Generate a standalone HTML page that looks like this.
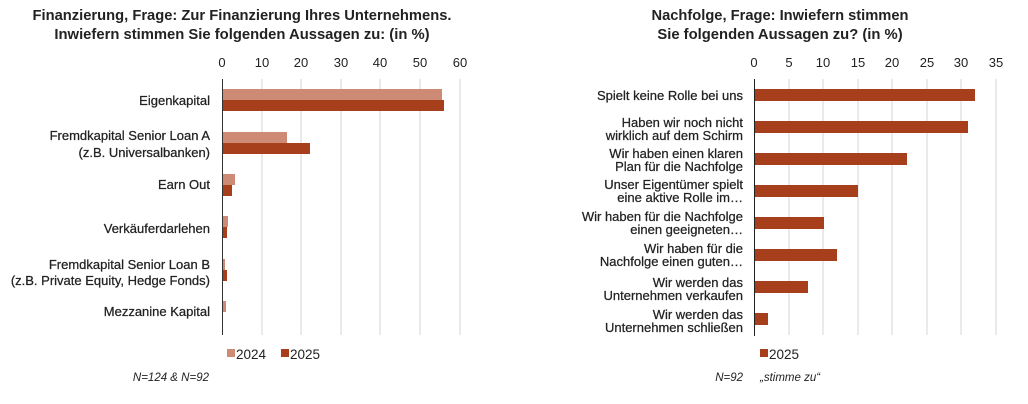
<!DOCTYPE html>
<html><head><meta charset="utf-8"><style>
html,body{margin:0;padding:0;background:#fff;width:1028px;height:404px;overflow:hidden}
svg{display:block}
text{font-family:"Liberation Sans Narrow","Liberation Sans",sans-serif;fill:#222}
.t{font-size:14.8px;font-weight:bold;text-anchor:middle}
.l{font-size:13px;text-anchor:end;stroke:#222;stroke-width:0.25}
.a{font-size:13px;text-anchor:middle}
.n{font-size:11.5px;font-style:italic}
.g{stroke:#d6d6d6;stroke-width:1}
</style></head><body>
<svg width="1028" height="404" viewBox="0 0 1028 404">
<text class="t" x="242" y="20" textLength="419" lengthAdjust="spacingAndGlyphs">Finanzierung, Frage: Zur Finanzierung Ihres Unternehmens.</text>
<text class="t" x="242" y="39">Inwiefern stimmen Sie folgenden Aussagen zu: (in %)</text>
<g class="g">
<line x1="262" y1="79" x2="262" y2="335"/><line x1="301" y1="79" x2="301" y2="335"/>
<line x1="341" y1="79" x2="341" y2="335"/><line x1="380" y1="79" x2="380" y2="335"/>
<line x1="420" y1="79" x2="420" y2="335"/><line x1="460" y1="79" x2="460" y2="335"/>
</g>
<text class="a" x="222" y="67">0</text><text class="a" x="262" y="67">10</text><text class="a" x="301" y="67">20</text>
<text class="a" x="341" y="67">30</text><text class="a" x="380" y="67">40</text><text class="a" x="420" y="67">50</text><text class="a" x="460" y="67">60</text>
<g fill="#cd8b75">
<rect x="222" y="89" width="220" height="11"/>
<rect x="222" y="132" width="65" height="11"/>
<rect x="222" y="174" width="13" height="11"/>
<rect x="222" y="216" width="6" height="11"/>
<rect x="222" y="259" width="3" height="11"/>
<rect x="222" y="301" width="4" height="11"/>
</g>
<g fill="#a83f1c">
<rect x="222" y="100" width="222" height="11"/>
<rect x="222" y="143" width="88" height="11"/>
<rect x="222" y="185" width="10" height="11"/>
<rect x="222" y="227" width="5" height="11"/>
<rect x="222" y="270" width="5" height="11"/>
</g>
<line x1="222.5" y1="79" x2="222.5" y2="335" stroke="#333" stroke-width="1"/>
<text class="l" x="210" y="105">Eigenkapital</text>
<text class="l" x="210" y="140">Fremdkapital Senior Loan A</text>
<text class="l" x="210" y="157">(z.B. Universalbanken)</text>
<text class="l" x="210" y="189">Earn Out</text>
<text class="l" x="210" y="233">Verkäuferdarlehen</text>
<text class="l" x="210" y="269">Fremdkapital Senior Loan B</text>
<text class="l" x="210" y="285">(z.B. Private Equity, Hedge Fonds)</text>
<text class="l" x="210" y="316">Mezzanine Kapital</text>
<rect x="227" y="349" width="8" height="8" fill="#cd8b75"/>
<text x="236" y="359" style="font-size:13.5px">2024</text>
<rect x="281" y="349" width="8" height="8" fill="#a83f1c"/>
<text x="290" y="359" style="font-size:13.5px">2025</text>
<text class="n" x="209" y="381" text-anchor="end">N=124 &amp; N=92</text>

<text class="t" x="780" y="20" textLength="257" lengthAdjust="spacingAndGlyphs">Nachfolge, Frage: Inwiefern stimmen</text>
<text class="t" x="780" y="39">Sie folgenden Aussagen zu? (in %)</text>
<g class="g">
<line x1="789" y1="79" x2="789" y2="335"/><line x1="823" y1="79" x2="823" y2="335"/>
<line x1="858" y1="79" x2="858" y2="335"/><line x1="892" y1="79" x2="892" y2="335"/>
<line x1="927" y1="79" x2="927" y2="335"/><line x1="961" y1="79" x2="961" y2="335"/>
<line x1="996" y1="79" x2="996" y2="335"/>
</g>
<text class="a" x="754" y="67">0</text><text class="a" x="789" y="67">5</text><text class="a" x="823" y="67">10</text>
<text class="a" x="858" y="67">15</text><text class="a" x="892" y="67">20</text><text class="a" x="927" y="67">25</text>
<text class="a" x="961" y="67">30</text><text class="a" x="996" y="67">35</text>
<g fill="#a83f1c">
<rect x="754" y="89" width="221" height="12"/>
<rect x="754" y="121" width="214" height="12"/>
<rect x="754" y="153" width="153" height="12"/>
<rect x="754" y="185" width="104" height="12"/>
<rect x="754" y="217" width="70" height="12"/>
<rect x="754" y="249" width="83" height="12"/>
<rect x="754" y="281" width="54" height="12"/>
<rect x="754" y="313" width="14" height="12"/>
</g>
<line x1="754.5" y1="79" x2="754.5" y2="336" stroke="#222" stroke-width="1"/>
<text class="l" x="743" y="100">Spielt keine Rolle bei uns</text>
<text class="l" x="743" y="127">Haben wir noch nicht</text>
<text class="l" x="743" y="140">wirklich auf dem Schirm</text>
<text class="l" x="743" y="158">Wir haben einen klaren</text>
<text class="l" x="743" y="171">Plan für die Nachfolge</text>
<text class="l" x="743" y="189">Unser Eigentümer spielt</text>
<text class="l" x="743" y="202">eine aktive Rolle im…</text>
<text class="l" x="743" y="221">Wir haben für die Nachfolge</text>
<text class="l" x="743" y="234">einen geeigneten…</text>
<text class="l" x="743" y="253">Wir haben für die</text>
<text class="l" x="743" y="266">Nachfolge einen guten…</text>
<text class="l" x="743" y="287">Wir werden das</text>
<text class="l" x="743" y="300">Unternehmen verkaufen</text>
<text class="l" x="743" y="319">Wir werden das</text>
<text class="l" x="743" y="332">Unternehmen schließen</text>
<rect x="760" y="349" width="8" height="8" fill="#a83f1c"/>
<text x="769" y="359" style="font-size:13.5px">2025</text>
<text class="n" x="743" y="381" text-anchor="end">N=92</text>
<text class="n" x="760" y="381">„stimme zu“</text>
</svg>
</body></html>
